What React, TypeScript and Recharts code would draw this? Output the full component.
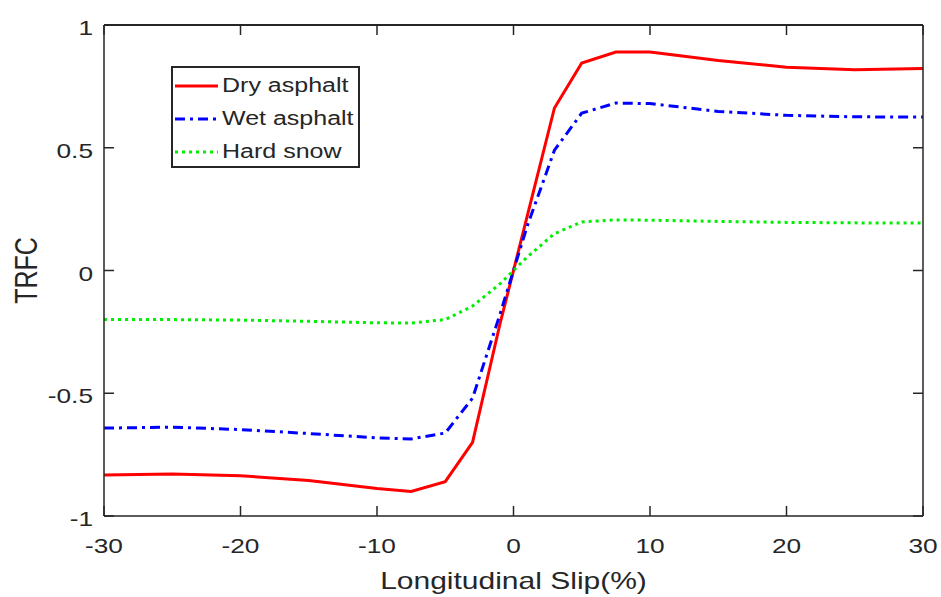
import React from "react";
import { LineChart, Line, XAxis, YAxis, Label } from "recharts";

// Longitudinal slip (%) where the friction curves are sampled
const slip = [-30, -25, -20, -15, -10, -7.5, -5, -3, -1, 0, 1, 3, 5, 7.5, 10, 15, 20, 25, 30];

// Tyre-road friction coefficient per surface
const dryAsphalt = [-0.833, -0.829, -0.836, -0.855, -0.888, -0.9, -0.86, -0.7, -0.22, 0, 0.22, 0.662, 0.845, 0.89, 0.89, 0.855, 0.828, 0.818, 0.823];
const wetAsphalt = [-0.642, -0.638, -0.648, -0.664, -0.682, -0.686, -0.662, -0.52, -0.18, 0, 0.18, 0.49, 0.641, 0.682, 0.68, 0.648, 0.632, 0.626, 0.625];
const hardSnow = [-0.2, -0.2, -0.202, -0.207, -0.213, -0.214, -0.2, -0.145, -0.055, 0, 0.055, 0.15, 0.198, 0.206, 0.205, 0.2, 0.196, 0.194, 0.193];

const xTicks = [-30, -20, -10, 0, 10, 20, 30];
const yTicks = [-1, -0.5, 0, 0.5, 1];

const data = slip.map((s, i) => ({
    slip: s,
    dry: dryAsphalt[i],
    wet: wetAsphalt[i],
    snow: hardSnow[i],
}));

const series = [
    { key: "dry", name: "Dry asphalt", color: "#ff0000", dash: undefined },
    { key: "wet", name: "Wet asphalt", color: "#0000ff", dash: "10 5 3 5" },
    { key: "snow", name: "Hard snow", color: "#00ee00", dash: "3 4" },
];

const INK = "#262626";
const FONT = "'Liberation Sans', Arial, sans-serif";
const TICK_LEN = 10;
const STRETCH = 1.25;

// chart layout
const CHART_W = 941;
const CHART_H = 597;
const MARGIN = { top: 25, right: 18, bottom: 0, left: 0 };
const Y_AXIS_W = 104;
const X_AXIS_H = 81;
const PLOT_W = CHART_W - MARGIN.left - MARGIN.right - Y_AXIS_W;
const PLOT_H = CHART_H - MARGIN.top - MARGIN.bottom - X_AXIS_H;

const X_MIN = xTicks[0];
const X_MAX = xTicks[xTicks.length - 1];
const Y_MIN = yTicks[0];
const Y_MAX = yTicks[yTicks.length - 1];

// bottom ticks also draw their mirrored twin on the top edge of the box
const BottomTick = ({ x, y, payload }: any) => (
    <g>
        <line x1={x} y1={y} x2={x} y2={y - TICK_LEN} stroke={INK} strokeWidth={1.5} />
        <line x1={x} y1={y - PLOT_H} x2={x} y2={y - PLOT_H + TICK_LEN} stroke={INK} strokeWidth={1.5} />
        <text transform={`translate(${x},${y + 37}) scale(${STRETCH},1)`} textAnchor="middle" fill={INK} fontSize={21} fontFamily={FONT}>
            {payload.value}
        </text>
    </g>
);

// left ticks draw their twin on the right edge; the top one closes the box
const LeftTick = ({ x, y, payload }: any) => (
    <g>
        <line x1={x} y1={y} x2={x + TICK_LEN} y2={y} stroke={INK} strokeWidth={1.5} />
        <line x1={x + PLOT_W} y1={y} x2={x + PLOT_W - TICK_LEN} y2={y} stroke={INK} strokeWidth={1.5} />
        {payload.value === Y_MAX && (
            <>
                <line x1={x} y1={y} x2={x + PLOT_W} y2={y} stroke={INK} strokeWidth={1.5} />
                <line x1={x + PLOT_W} y1={y} x2={x + PLOT_W} y2={y + PLOT_H} stroke={INK} strokeWidth={1.5} />
            </>
        )}
        <text transform={`translate(${x - 11},${y + 10}) scale(${STRETCH},1)`} textAnchor="end" fill={INK} fontSize={21} fontFamily={FONT}>
            {payload.value}
        </text>
    </g>
);

const LegendBox = () => (
    <div style={{ position: "absolute", left: 171, top: 66, width: 189, height: 102, border: `2px solid ${INK}`, background: "#fff", padding: "1px 0 0 1px", fontFamily: FONT, color: INK, boxSizing: "border-box" }}>
        {series.map((s) => (
            <div key={s.key} style={{ display: "flex", alignItems: "center", height: 33 }}>
                <svg width={44} height={10}>
                    <line x1={1} y1={5} x2={44} y2={5} stroke={s.color} strokeWidth={3} strokeDasharray={s.dash} />
                </svg>
                <span style={{ fontSize: 20, marginLeft: 4, display: "inline-block", transform: `scaleX(${STRETCH})`, transformOrigin: "left center", whiteSpace: "nowrap" }}>{s.name}</span>
            </div>
        ))}
    </div>
);

// top edge of the axes box, laid over the chart
const TopEdge = () => (
    <div style={{ position: "absolute", left: MARGIN.left + Y_AXIS_W, top: MARGIN.top - 1, width: PLOT_W, height: 0, borderTop: `2px solid ${INK}`, pointerEvents: "none" }} />
);

export default function App() {
    return (
        <div style={{ position: "absolute", left: 0, top: 0, width: CHART_W, height: CHART_H, background: "#fff" }}>
            <LineChart width={CHART_W} height={CHART_H} data={data} margin={MARGIN} style={{ overflow: "visible" }}>
                <XAxis dataKey="slip" type="number" domain={[X_MIN, X_MAX]} ticks={xTicks} interval={0} height={X_AXIS_H} tickSize={0} tickMargin={0} tickLine={false} axisLine={{ stroke: INK, strokeWidth: 1.5 }} tick={<BottomTick />}>
                    <Label content={({ viewBox }: any) => (
                        <text transform={`translate(${viewBox.x + viewBox.width / 2},${viewBox.y + 73}) scale(${STRETCH},1)`} textAnchor="middle" fill={INK} fontSize={24} fontFamily={FONT}>
                            Longitudinal Slip(%)
                        </text>
                    )} />
                </XAxis>
                <YAxis type="number" domain={[Y_MIN, Y_MAX]} ticks={yTicks} interval={0} width={Y_AXIS_W} tickSize={0} tickMargin={0} tickLine={false} axisLine={{ stroke: INK, strokeWidth: 1.5 }} tick={<LeftTick />}>
                    <Label content={({ viewBox }: any) => (
                        <text transform={`translate(${viewBox.x + 37},${viewBox.y + viewBox.height / 2}) scale(${STRETCH},1) rotate(-90)`} textAnchor="middle" fill={INK} fontSize={25} fontFamily={FONT}>
                            TRFC
                        </text>
                    )} />
                </YAxis>
                {series.map((s) => (
                    <Line key={s.key} type="linear" dataKey={s.key} name={s.name} stroke={s.color} strokeWidth={3} strokeDasharray={s.dash} dot={false} activeDot={false} isAnimationActive={false} />
                ))}
            </LineChart>
            <TopEdge />
            <LegendBox />
        </div>
    );
}
